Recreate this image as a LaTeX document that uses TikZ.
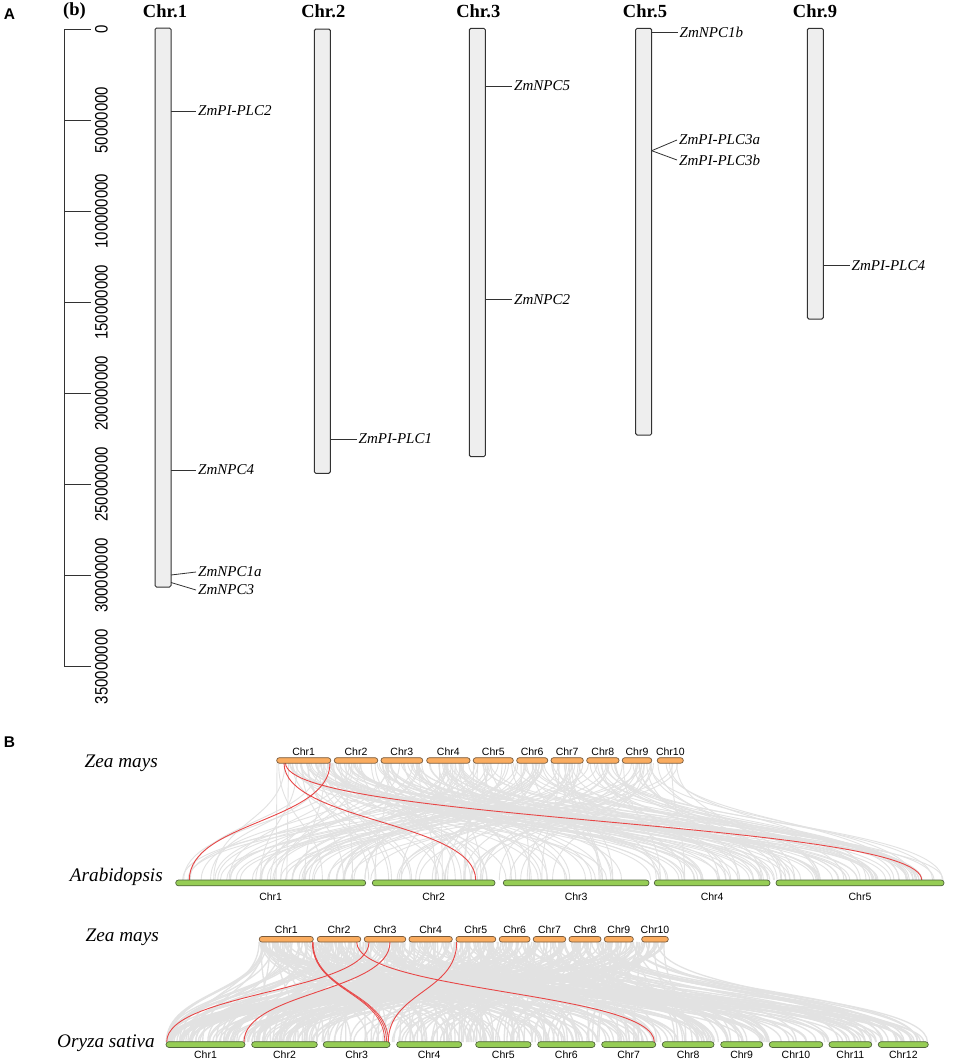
\documentclass[tikz,border=0pt]{standalone}
\usepackage{fontspec}
\setmainfont{Liberation Serif}
\setsansfont{Liberation Sans}
\usepackage{graphicx}
\definecolor{zeaor}{RGB}{250,172,95}
\definecolor{zeaedge}{RGB}{120,90,60}
\definecolor{arabg}{RGB}{150,205,85}
\definecolor{arabedge}{RGB}{80,100,60}
\definecolor{linkgray}{RGB}{226,226,226}
\definecolor{linkred}{RGB}{232,70,70}
\definecolor{chrfill}{RGB}{238,238,238}
\definecolor{chredge}{RGB}{50,50,50}
\tikzset{
  chrom/.style={draw=chredge, fill=chrfill, line width=1pt, rounded corners=1.5pt},
  gtick/.style={draw=chredge, line width=0.8pt},
  gene/.style={font=\fontsize{15}{16}\selectfont\itshape, anchor=west, inner sep=2pt},
  ctitle/.style={font=\fontsize{18.5}{20}\selectfont\bfseries, inner sep=0pt},
  scl/.style={font=\sffamily\fontsize{18}{20}\selectfont, rotate=90, anchor=north, inner sep=0pt},
  panel/.style={font=\sffamily\bfseries\fontsize{15.5}{17}\selectfont, inner sep=0pt},
  species/.style={font=\fontsize{19.2}{21}\selectfont\itshape, anchor=east, inner sep=0pt},
  clab/.style={font=\sffamily\fontsize{10.5}{12}\selectfont, inner sep=0pt},
  zeab/.style={draw=zeaedge, fill=zeaor, line width=0.7pt, rounded corners=2.6pt},
  arab/.style={draw=arabedge, fill=arabg, line width=0.7pt, rounded corners=2.8pt},
  glink/.style={draw=linkgray, line width=0.9pt},
  rlink/.style={draw=linkred, line width=0.9pt},
}
\newcommand{\sclabel}[1]{\scalebox{0.83}[1]{#1}}
\begin{document}
\begin{tikzpicture}[x=1pt,y=-1pt]
\useasboundingbox[fill=white] (0,0) rectangle (956,1060);

% ---------------- Panel A ----------------
\node[panel] (pA) at (9.5,14) {A};
\node[ctitle] (pb) at (74.5,11) {(b)};

% scale axis
\coordinate (ax0) at (64,29);
\coordinate (ax1) at (64,666.7);
\draw[gtick, line width=1pt] (ax0) -- (ax1);
\foreach \v/\t [count=\k] in {0/0,1/50000000,2/100000000,3/150000000,4/200000000,5/250000000,6/300000000,7/350000000}{
  \coordinate (tk\k) at (64,{29+\v*91.1});
  \draw[gtick, line width=1pt] (tk\k) -- ++(26.7,0);
  \node[scl] (sl\k) at (94.8,{29+\v*91.1}) {\sclabel{\t}};
}

% chromosomes
\node[ctitle] (t1) at (165,11.5) {Chr.1};
\draw[chrom] (155,28) rectangle (171,587);
\node[ctitle] (t2) at (323.3,11.5) {Chr.2};
\draw[chrom] (314.3,29) rectangle (330.3,473.3);
\node[ctitle] (t3) at (478.3,11.5) {Chr.3};
\draw[chrom] (469.3,28.3) rectangle (485.3,456.7);
\node[ctitle] (t5) at (645,11.5) {Chr.5};
\draw[chrom] (635.7,28.3) rectangle (651.7,435);
\node[ctitle] (t9) at (815,11.5) {Chr.9};
\draw[chrom] (807.3,28.3) rectangle (823.3,319);

% genes Chr.1
\node[gene] (g11) at (196,111) {ZmPI-PLC2};
\draw[gtick] (171,111) -- (g11.west);
\node[gene] (g12) at (196,470) {ZmNPC4};
\draw[gtick] (171,470) -- (g12.west);
\node[gene] (g13) at (196,572) {ZmNPC1a};
\draw[gtick] (171,575) -- (g13.west);
\node[gene] (g14) at (196,590) {ZmNPC3};
\draw[gtick] (171,582.5) -- (g14.west);
% Chr.2
\node[gene] (g21) at (356.5,439) {ZmPI-PLC1};
\draw[gtick] (330.3,439) -- (g21.west);
% Chr.3
\node[gene] (g31) at (512,86) {ZmNPC5};
\draw[gtick] (485.3,86) -- (g31.west);
\node[gene] (g32) at (512,299.3) {ZmNPC2};
\draw[gtick] (485.3,299.3) -- (g32.west);
% Chr.5
\node[gene] (g51) at (677.5,32.3) {ZmNPC1b};
\draw[gtick] (651.7,32.3) -- (g51.west);
\coordinate (c5m) at (651.7,150.7);
\node[gene] (g52) at (677,140) {ZmPI-PLC3a};
\draw[gtick] (c5m) -- (g52.west);
\node[gene] (g53) at (677,160) {ZmPI-PLC3b};
\draw[gtick] (c5m) -- (g53.west);
% Chr.9
\node[gene] (g91) at (849.5,265.7) {ZmPI-PLC4};
\draw[gtick] (823.3,265.7) -- (g91.west);

% ---------------- Panel B ----------------
\node[panel] (pB) at (9.5,742) {B};

% block 1 species
\node[species] (sz1) at (158,763) {Zea mays};
\node[species] (sa) at (163,877) {Arabidopsis};

% gray links block 1
\pgfmathsetseed{7}
\foreach \i in {1,...,230}{
  \pgfmathsetmacro{\xa}{277+406*rnd}
  \pgfmathsetmacro{\xb}{176+768*rnd}
  \draw[glink] (\xa,763) .. controls (\xa,821.5) and (\xb,821.5) .. (\xb,880);
}
% red links block 1
\coordinate (r1a) at (330,763);   \coordinate (r1b) at (189.3,880);
\coordinate (r2a) at (284,763);   \coordinate (r2b) at (475.7,880);
\coordinate (r3a) at (285.5,763); \coordinate (r3b) at (921.7,880);
\draw[rlink] (r1a) .. controls (330,821.5) and (189.3,821.5) .. (r1b);
\draw[rlink] (r2a) .. controls (284,821.5) and (475.7,821.5) .. (r2b);
\draw[rlink] (r3a) .. controls (285.5,821.5) and (921.7,821.5) .. (r3b);

% Zea bars block 1
\foreach \a/\b/\l [count=\k] in {276.7/330.7/Chr1,334.3/377.7/Chr2,381/422.7/Chr3,426.7/470/Chr4,473.3/513.3/Chr5,516.7/547.7/Chr6,551/583.3/Chr7,586.7/619/Chr8,622.3/651.7/Chr9,657.3/683.3/Chr10}{
  \draw[zeab] (\a,757.7) rectangle (\b,763.2);
  \node[clab] (za\k) at ({(\a+\b)/2},751.8) {\l};
}
% Arabidopsis bars
\foreach \a/\b/\l [count=\k] in {175.7/365.7/Chr1,372.3/495/Chr2,503.3/649/Chr3,654.3/770/Chr4,776/944/Chr5}{
  \draw[arab] (\a,880) rectangle (\b,885.8);
  \node[clab] (ab\k) at ({(\a+\b)/2},896.8) {\l};
}

% block 2 species
\node[species] (sz2) at (159,937.5) {Zea mays};
\node[species] (so) at (155,1043.3) {Oryza sativa};

% gray links block 2
\pgfmathsetseed{11}
\foreach \i in {1,...,380}{
  \pgfmathsetmacro{\xa}{259+409*rnd}
  \pgfmathsetmacro{\xb}{166+762*rnd^1.3}
  \draw[glink, line width=1.3pt] (\xa,942) .. controls (\xa,992) and (\xb,992) .. (\xb,1042);
}
% red links block 2
\coordinate (s1a) at (369,942);   \coordinate (s1b) at (166.7,1042);
\coordinate (s2a) at (390,942);   \coordinate (s2b) at (244,1042);
\coordinate (s3a) at (312.3,942); \coordinate (s3b) at (384.8,1042);
\coordinate (s4a) at (312.7,942); \coordinate (s4b) at (386.6,1042);
\coordinate (s5a) at (313.1,942); \coordinate (s5b) at (388.4,1042);
\coordinate (s6a) at (456.7,942); \coordinate (s6b) at (388.3,1042);
\coordinate (s7a) at (356.7,942); \coordinate (s7b) at (654.3,1042);
\draw[rlink] (s1a) .. controls (369,992) and (166.7,992) .. (s1b);
\draw[rlink] (s2a) .. controls (390,992) and (244,992) .. (s2b);
\draw[rlink, line width=0.7pt] (s3a) .. controls (312.3,992) and (384.8,992) .. (s3b);
\draw[rlink, line width=0.7pt] (s4a) .. controls (312.7,992) and (386.6,992) .. (s4b);
\draw[rlink, line width=0.7pt] (s5a) .. controls (313.1,992) and (388.4,992) .. (s5b);
\draw[rlink] (s6a) .. controls (456.7,992) and (388.3,992) .. (s6b);
\draw[rlink] (s7a) .. controls (356.7,992) and (654.3,992) .. (s7b);

% Zea bars block 2
\foreach \a/\b/\l [count=\k] in {259.3/313.3/Chr1,317.3/360.7/Chr2,364.3/405.7/Chr3,409/452.3/Chr4,456/495.7/Chr5,499.3/530/Chr6,533.3/565.7/Chr7,569/601/Chr8,604.3/633.3/Chr9,641.7/668.3/Chr10}{
  \draw[zeab] (\a,936.5) rectangle (\b,942);
  \node[clab] (zb\k) at ({(\a+\b)/2},929.5) {\l};
}
% Oryza bars
\foreach \a/\b/\l [count=\k] in {166/245/Chr1,251.7/317.3/Chr2,323.3/390/Chr3,396.7/461.7/Chr4,475.7/531/Chr5,537.7/595/Chr6,601.7/655.7/Chr7,662.3/714/Chr8,720.7/762.7/Chr9,769.3/822.7/Chr10,829/871.7/Chr11,878.3/928.3/Chr12}{
  \draw[arab] (\a,1041.7) rectangle (\b,1047.4);
  \node[clab] (ob\k) at ({(\a+\b)/2},1055) {\l};
}
\end{tikzpicture}
\end{document}
